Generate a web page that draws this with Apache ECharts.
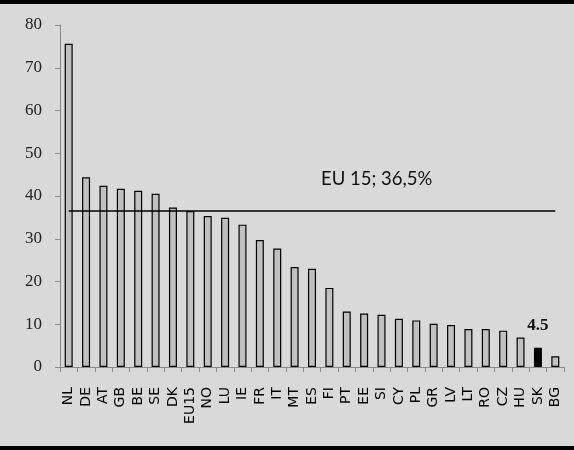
<!DOCTYPE html>
<html><head><meta charset="utf-8">
<script src="https://cdn.jsdelivr.net/npm/echarts@6/dist/echarts.min.js"></script>
<style>
html,body{margin:0;padding:0;background:#000;width:574px;height:450px;overflow:hidden}
#c{position:absolute;left:0;top:4px;width:574px;height:442px;background:#d9d9d9}
</style></head><body><div id="c"></div>
<script>
const categories = ['NL','DE','AT','GB','BE','SE','DK','EU15','NO','LU','IE','FR','IT','MT','ES','FI','PT','EE','SI','CY','PL','GR','LV','LT','RO','CZ','HU','SK','BG'];
const values = [75.6,44.4,42.4,41.7,41.2,40.5,37.3,36.5,35.3,34.9,33.3,29.7,27.7,23.4,23.0,18.5,13.0,12.5,12.2,11.3,10.9,10.1,9.8,8.9,8.9,8.5,6.9,4.5,2.5];
const highlight = 'SK';
const eu15Value = 36.5;
const eu15Label = 'EU 15; 36,5%';
const yTicks = {min:0, max:80, interval:10};

const SERIF = "'Liberation Serif', 'Times New Roman', 'DejaVu Serif', serif";
const SANS = "'DejaVu Sans', Verdana, sans-serif";

const chart = echarts.init(document.getElementById('c'), null, {renderer:'canvas'});
chart.setOption({
  backgroundColor:'#d9d9d9',
  animation:false,
  textStyle:{fontFamily:SERIF},
  grid:{left:60,right:10,top:21,bottom:79},
  xAxis:{
    type:'category', data:categories, boundaryGap:true,
    axisLine:{lineStyle:{color:'#8a8a8a',width:1}},
    axisTick:{show:true,alignWithLabel:false,length:5,lineStyle:{color:'#8a8a8a'}},
    axisLabel:{rotate:90,interval:0,margin:20,color:'#000',fontFamily:SANS,fontSize:14}
  },
  yAxis:{
    type:'value', min:yTicks.min, max:yTicks.max, interval:yTicks.interval,
    splitLine:{show:false},
    axisLine:{show:true,lineStyle:{color:'#8a8a8a',width:1}},
    axisTick:{show:true,length:5,lineStyle:{color:'#8a8a8a'}},
    axisLabel:{margin:18,color:'#222',fontFamily:SERIF,fontSize:17}
  },
  graphic:[{type:'text',left:321,top:166,style:{text:eu15Label,fill:'#111',fontFamily:"Lato, 'Open Sans', sans-serif",fontSize:18.5}}],
  series:[{
    type:'bar', barWidth:8,
    data:values.map((v,i)=>({
      value:v,
      itemStyle:{color: categories[i]===highlight ? '#000' : '#c0c0c0'},
      label: categories[i]===highlight ? {show:true,position:'top',distance:14,color:'#111',fontFamily:SERIF,fontSize:17,fontWeight:'bold',formatter:'{c}'} : {show:false}
    })),
    itemStyle:{borderColor:'#000',borderWidth:1.2},
    markLine:{
      silent:true, symbol:'none', animation:false,
      lineStyle:{color:'#000',width:1.5,type:'solid'},
      label:{show:false},
      data:[[{coord:[categories[0],eu15Value]},{coord:[categories[categories.length-1],eu15Value]}]]
    }
  }]
});
</script></body></html>
